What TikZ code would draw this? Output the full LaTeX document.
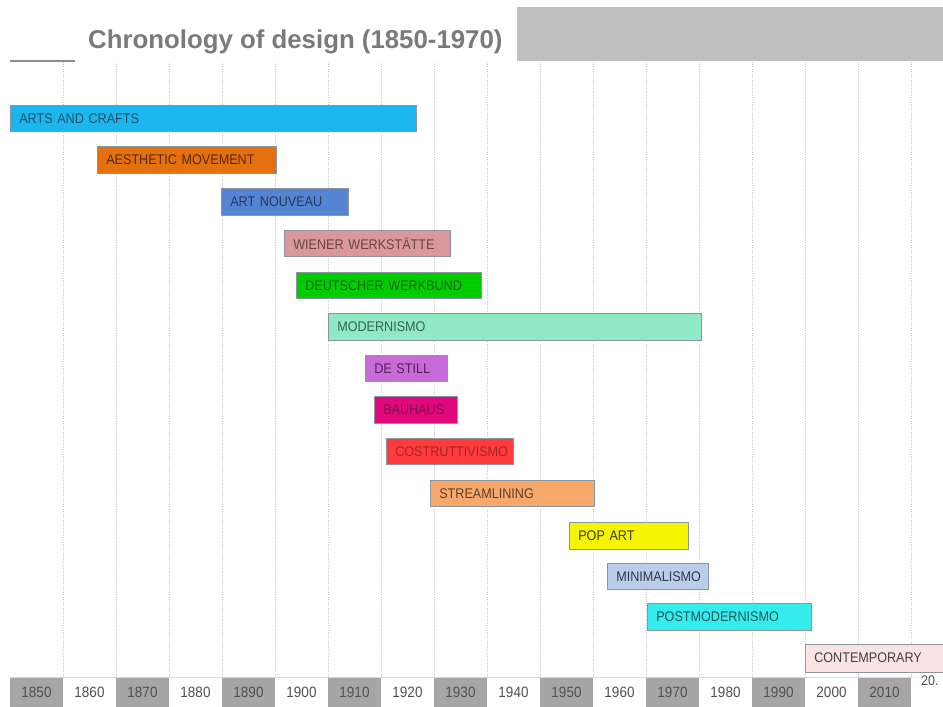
\documentclass[tikz,border=0pt]{standalone}
\usepackage{fontspec}
\setmainfont{Liberation Sans}
\newfontfamily\narrowfont[FakeStretch=0.9]{Liberation Sans}
\usetikzlibrary{positioning}

% palette
\definecolor{titlegrey}{HTML}{7A7A7A}
\definecolor{bandgrey}{HTML}{BFBFBF}
\definecolor{gridgrey}{HTML}{C8C8C8}
\definecolor{cellgrey}{HTML}{A6A6A6}
\definecolor{yeartext}{HTML}{505050}
\definecolor{edgegrey}{HTML}{8C96A0}

\begin{document}
\begin{tikzpicture}[x=1pt,y=-1pt,
  era/.style={draw=edgegrey, line width=0.6pt, anchor=west, minimum height=26.5pt,
    inner xsep=9pt, inner ysep=0pt, align=left,
    font=\narrowfont\fontsize{14}{16}\selectfont},
  yearcell/.style={minimum width=53pt, minimum height=29pt, inner sep=0pt,
    text=yeartext, font=\narrowfont\fontsize{15}{17}\selectfont},
  gridline/.style={gridgrey, line width=0.7pt, dash pattern=on 1pt off 1.2pt}]

\useasboundingbox (0,0) rectangle (943,707);
\clip (0,0) rectangle (943,707);

% heading band
\fill[bandgrey] (517,7) rectangle (943,61);
\draw[titlegrey!85, line width=2pt] (10,61) -- (75,61);
\node[anchor=base west, inner sep=0pt, text=titlegrey,
  font=\fontsize{25.8}{30}\selectfont\bfseries] (title) at (88,48)
  {Chronology of design (1850-1970)};

% decade grid
\foreach \k in {1,...,17}
  \draw[gridline] (10+53*\k,62) -- (10+53*\k,677);
\draw[gridgrey!70, line width=0.6pt] (10,677.5) -- (913,677.5);

% time axis
\foreach \k in {0,...,16}{
  \pgfmathtruncatemacro\yr{1850+10*\k}
  \ifodd\k
    \node[yearcell, fill=white] (y\yr) at (10+53*\k+26.5,692.5) {\yr};
  \else
    \node[yearcell, fill=cellgrey] (y\yr) at (10+53*\k+26.5,692.5) {\yr};
  \fi
}
\node[anchor=north west, inner sep=0pt, text=yeartext,
  font=\narrowfont\fontsize{14}{16}\selectfont] (cut) at (921,676) {20.};

% movements
\node[era, fill={rgb,255:red,28;green,182;blue,238}, text={rgb,255:red,30;green,80;blue,106},
  text width=388pt] (arts) at (10,118.5) {ARTS AND CRAFTS};
\node[era, fill={rgb,255:red,229;green,112;blue,15}, text={rgb,255:red,90;green,40;blue,0},
  text width=161pt] (aesthetic) at (97,160) {AESTHETIC MOVEMENT};
\node[era, fill={rgb,255:red,85;green,133;blue,210}, text={rgb,255:red,32;green,58;blue,96},
  text width=109pt] (nouveau) at (221,202) {ART NOUVEAU};
\node[era, fill={rgb,255:red,217;green,153;blue,154}, text={rgb,255:red,106;green,68;blue,68},
  text width=148pt] (wiener) at (284,243.5) {WIENER WERKSTÄTTE};
\node[era, fill={rgb,255:red,0;green,204;blue,0}, text={rgb,255:red,20;green,100;blue,20},
  text width=167pt] (werkbund) at (296,285.5) {DEUTSCHER WERKBUND};
\node[era, fill={rgb,255:red,144;green,232;blue,196}, text={rgb,255:red,47;green,102;blue,85},
  text width=355pt] (modernismo) at (328,327) {MODERNISMO};
\node[era, fill={rgb,255:red,200;green,106;blue,216}, text={rgb,255:red,85;green,32;blue,95},
  text width=64pt] (stijl) at (365,368.5) {DE STILL};
\node[era, fill={rgb,255:red,224;green,8;blue,124}, text={rgb,255:red,128;green,16;blue,74},
  text width=65pt] (bauhaus) at (374,410) {BAUHAUS};
\node[era, fill={rgb,255:red,255;green,59;blue,59}, text={rgb,255:red,160;green,40;blue,40},
  text width=109pt] (costrutt) at (386,451.5) {COSTRUTTIVISMO};
\node[era, fill={rgb,255:red,248;green,168;blue,106}, text={rgb,255:red,90;green,64;blue,48},
  text width=146pt] (stream) at (430,493.5) {STREAMLINING};
\node[era, fill={rgb,255:red,245;green,245;blue,0}, text={rgb,255:red,58;green,58;blue,20},
  text width=101pt] (popart) at (569,536) {POP ART};
\node[era, fill={rgb,255:red,185;green,205;blue,234}, text={rgb,255:red,48;green,56;blue,69},
  text width=83pt] (minimal) at (607,576.5) {MINIMALISMO};
\node[era, fill={rgb,255:red,54;green,235;blue,235}, text={rgb,255:red,31;green,90;blue,90},
  text width=146pt] (postmod) at (647,617) {POSTMODERNISMO};
\node[era, fill={rgb,255:red,251;green,227;blue,227}, text={rgb,255:red,64;green,64;blue,64},
  text width=142pt, minimum height=28pt] (contemp) at (805,658) {CONTEMPORARY};

\end{tikzpicture}
\end{document}
